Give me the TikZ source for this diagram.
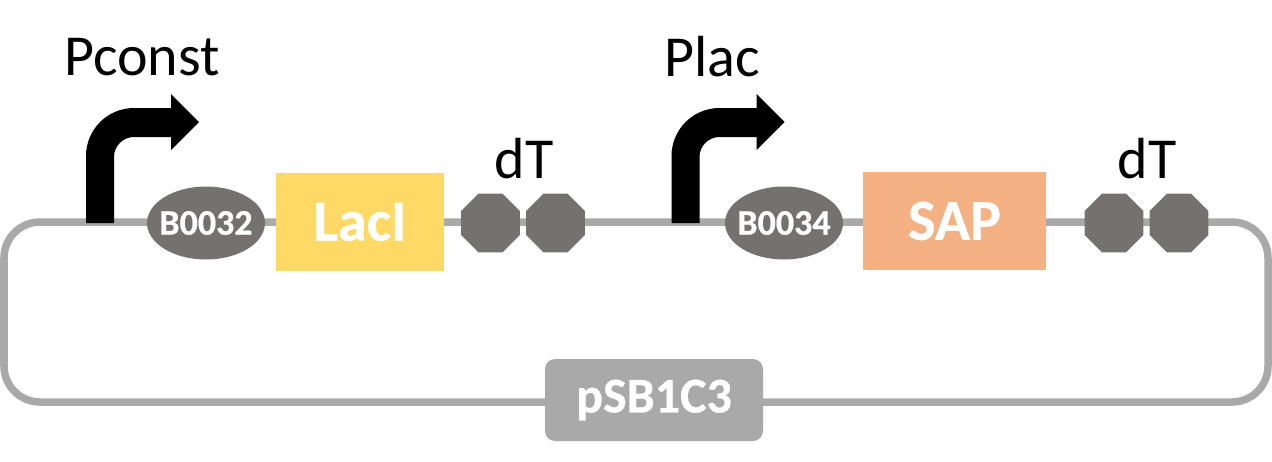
\documentclass[tikz,border=0pt]{standalone}
\usepackage{fontspec}
\setmainfont[BoldFeatures={FakeBold=0.6}]{Carlito}
\usetikzlibrary{shapes.geometric}
\definecolor{bb}{HTML}{A9A9A9}
\definecolor{dg}{HTML}{767171}
\definecolor{yy}{HTML}{FFD966}
\definecolor{oo}{HTML}{F4B183}
\tikzset{x=1pt,y=-1pt,
 rbs/.style={ellipse,fill=dg,draw=none,inner sep=0pt,text=white,font=\bfseries\fontsize{36}{36}\selectfont},
 gene/.style={rectangle,draw=none,inner sep=0pt,text=white,font=\bfseries\fontsize{58}{58}\selectfont},
 term/.style={regular polygon,regular polygon sides=8,fill=dg,draw=none,inner sep=0pt,minimum size=63.5},
 lab/.style={inner sep=0pt,text=black,font=\fontsize{58}{58}\selectfont},
 prom/.style={fill=black,draw=none}}
\newcommand{\promoter}[1]{\fill[prom,shift={(#1,0)}] (86,223) -- (86,156) .. controls (86,129.5) and (107.5,108) .. (134,108) -- (171,108) -- (171,94) -- (199,122) -- (171,150) -- (171,137) -- (134,137) .. controls (123,137) and (114,146) .. (114,157) -- (114,223) -- cycle;}
\begin{document}
\begin{tikzpicture}
\useasboundingbox (0,0) rectangle (1272,461);
\draw[bb,line width=7.5,rounded corners=36] (4,222) rectangle (1268,402);
\node[rbs,minimum width=118,minimum height=73] (r1) at (206,223) {\makebox[0pt][c]{B0032}};
\node[gene,fill=yy,minimum width=168,minimum height=98] (g1) at (360,222) {\raisebox{-2pt}{LacI}};
\node[term] (t1) at (490.5,223) {};
\node[term] (t2) at (555.5,223) {};
\node[rbs,minimum width=118,minimum height=73] (r2) at (784,223) {\makebox[0pt][c]{B0034}};
\node[gene,fill=oo,minimum width=183,minimum height=98] (g2) at (954.5,221) {\raisebox{-2pt}{SAP}};
\node[term] (t3) at (1114,223) {};
\node[term] (t4) at (1179,223) {};
\node[gene,fill=bb,rounded corners=10,minimum width=218,minimum height=82,font=\bfseries\fontsize{50}{50}\selectfont] (p) at (654,400) {pSB1C3};
\node[lab] (l1) at (142,57) {Pconst};
\node[lab] (l2) at (712,57) {Plac};
\node[lab] (l3) at (524,159) {dT};
\node[lab] (l4) at (1147,159) {dT};
\promoter{0}
\promoter{585.5}
\end{tikzpicture}
\end{document}
